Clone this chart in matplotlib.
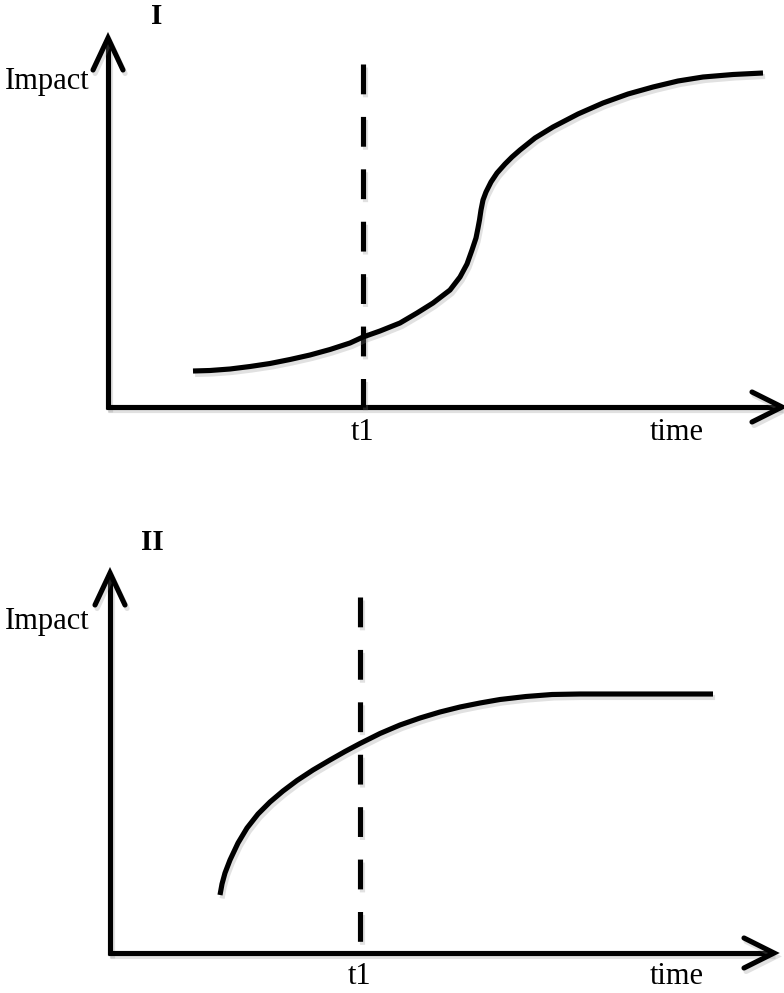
"""Two sketch panels: impact over time, with a t1 marker (I: S-curve, II: saturating)."""

import matplotlib

matplotlib.use("Agg")
import matplotlib.pyplot as plt
import matplotlib.patheffects as pe

# canvas units = pixels of the 784x993 picture (y grows downward)
W, H = 784, 993

# panel I: S-shaped impact curve
curve1_x = [193, 210, 230, 250, 270, 290, 310, 330, 350, 363, 380, 400, 417, 433,
            450, 460, 467, 472, 476, 478, 479.5, 481, 483, 486, 491, 497, 505, 512,
            520, 535, 553, 578, 603, 628, 653, 678, 703, 733, 763]
curve1_y = [371, 370.5, 369, 366.5, 363.5, 359.5, 355, 349.5, 343, 337, 331, 323, 313, 303,
            290, 277, 264, 250, 238, 228, 220, 210, 200, 192, 182, 173, 164, 157,
            150, 138, 127, 114, 103, 94, 87, 81, 77, 74.5, 73]

# panel II: fast rise then plateau
curve2_x = [220, 222, 225, 230, 238, 247, 258, 270, 283, 297, 313, 330, 345, 360,
            380, 400, 420, 440, 460, 480, 500, 526, 552, 580, 713]
curve2_y = [895, 884, 873, 860, 843, 828, 814, 802, 791, 780.5, 770, 760, 751.5, 743.5,
            733.5, 725, 718, 712, 707, 703, 699.5, 696.5, 694.5, 694, 694]

# axes: origin, x-axis tip, y-axis tip
panels = [
    dict(ox=108, oy=407, xtip=782, ytip=38, t1=363, t1_top=64,
         title="I", title_xy=(157, 16), impact_y=82, label_y=432),
    dict(ox=110, oy=953, xtip=774, ytip=573, t1=360, t1_top=597,
         title="II", title_xy=(152, 543), impact_y=621, label_y=977),
]

LW = 3.7
shadow = [pe.SimpleLineShadow(offset=(1.5, -2.5), shadow_color="#888888", alpha=0.25),
          pe.Normal()]

plt.rcParams["font.family"] = ["Liberation Serif", "DejaVu Serif"]

fig = plt.figure(figsize=(W / 100, H / 100), dpi=100)
ax = fig.add_axes([0, 0, 1, 1])
ax.set_xlim(0, W)
ax.set_ylim(H, 0)
ax.axis("off")

for p in panels:
    kw = dict(color="black", lw=LW, solid_capstyle="butt", path_effects=shadow)
    # axes lines
    ax.plot([p["ox"], p["ox"]], [p["oy"] + 2, p["ytip"] + 1], **kw)
    ax.plot([p["ox"] - 2, p["xtip"] - 1], [p["oy"], p["oy"]], **kw)
    # open chevron heads
    ah = dict(color="black", lw=LW, solid_capstyle="round", solid_joinstyle="miter",
              path_effects=shadow)
    ax.plot([p["ox"] - 15, p["ox"], p["ox"] + 15],
            [p["ytip"] + 32, p["ytip"], p["ytip"] + 32], **ah)
    ax.plot([p["xtip"] - 30, p["xtip"], p["xtip"] - 30],
            [p["oy"] - 15, p["oy"], p["oy"] + 15], **ah)
    # t1 dashed marker
    ax.plot([p["t1"], p["t1"]], [p["t1_top"], p["oy"]], color="black", lw=LW,
            dashes=(5.8, 4.4), dash_capstyle="butt", path_effects=shadow)
    # labels
    ax.text(p["title_xy"][0], p["title_xy"][1], p["title"], fontsize=21,
            fontweight="bold", ha="center", va="center")
    ax.text(5, p["impact_y"], "Impact", fontsize=22, ha="left", va="center")
    ax.text(p["t1"], p["label_y"], "t1", fontsize=22, ha="center", va="center")
    ax.text(677, p["label_y"], "time", fontsize=22, ha="center", va="center")

curve_kw = dict(color="black", lw=LW, solid_capstyle="butt", solid_joinstyle="round",
                path_effects=shadow)
ax.plot(curve1_x, curve1_y, **curve_kw)
ax.plot(curve2_x, curve2_y, **curve_kw)

fig.savefig("out.png", dpi=100, facecolor="white")
